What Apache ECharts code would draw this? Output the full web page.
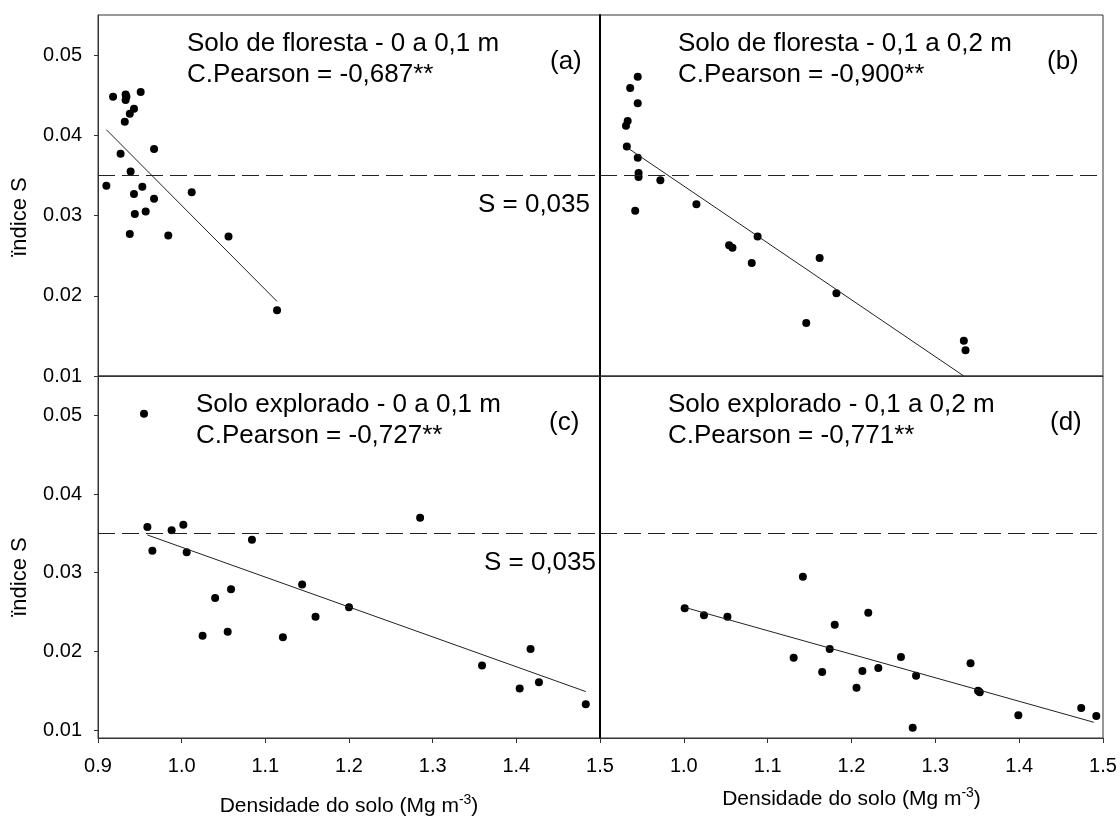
<!DOCTYPE html>
<html><head><meta charset="utf-8">
<script src="https://cdn.jsdelivr.net/npm/echarts@6/dist/echarts.min.js"></script>
<style>html,body{margin:0;padding:0;background:#fff}#c{width:1120px;height:818px}</style>
</head><body><div id="c"></div>
<script>
const FONT = '"Liberation Sans", Arial, sans-serif';

// tick labels
const xTicksLeft = [0.9, 1.0, 1.1, 1.2, 1.3, 1.4, 1.5];
const xTicksRight = [1.0, 1.1, 1.2, 1.3, 1.4, 1.5];
const yTicks = [0.01, 0.02, 0.03, 0.04, 0.05];

// texts
const panelTitles = [
  'Solo de floresta - 0 a 0,1 m\nC.Pearson = -0,687**',
  'Solo de floresta - 0,1 a 0,2 m\nC.Pearson = -0,900**',
  'Solo explorado - 0 a 0,1 m\nC.Pearson = -0,727**',
  'Solo explorado - 0,1 a 0,2 m\nC.Pearson = -0,771**'
];
const panelTags = ['(a)', '(b)', '(c)', '(d)'];
const yName = 'ïndice S';
const xName = 'Densidade do solo (Mg m{sup|-3})';
const thresholdS = 0.035;
const thresholdLabel = 'S = 0,035';

// (a) Solo de floresta 0-0,1 m
const aX = [0.910, 0.918, 0.933, 0.934, 0.933, 0.932, 0.938, 0.943, 0.951, 0.927, 0.967, 0.939, 0.953, 0.943, 0.967, 1.012, 0.944, 0.957, 0.938, 0.984, 1.056, 1.114];
const aY = [0.0337, 0.0448, 0.0451, 0.0448, 0.0444, 0.0417, 0.0427, 0.0433, 0.0454, 0.0377, 0.0383, 0.0355, 0.0336, 0.0327, 0.0321, 0.0329, 0.0302, 0.0305, 0.0277, 0.0275, 0.0274, 0.0182];
const aFitX = [0.910, 1.114];
const aFitY = [0.0407, 0.0193];

// (b) Solo de floresta 0,1-0,2 m
const bX = [0.945, 0.936, 0.945, 0.933, 0.931, 0.932, 0.945, 0.946, 0.946, 0.972, 0.942, 1.015, 1.054, 1.058, 1.088, 1.081, 1.162, 1.182, 1.146, 1.334, 1.336];
const bY = [0.0473, 0.0459, 0.0440, 0.0418, 0.0412, 0.0386, 0.0372, 0.0353, 0.0348, 0.0344, 0.0306, 0.0314, 0.0263, 0.0260, 0.0274, 0.0241, 0.0247, 0.0203, 0.0166, 0.0144, 0.0132];
const bFitX = [0.932, 1.334];
const bFitY = [0.0385, 0.0100];

// (c) Solo explorado 0-0,1 m
const cX = [0.955, 0.959, 0.965, 0.988, 1.002, 1.006, 1.025, 1.040, 1.055, 1.059, 1.084, 1.121, 1.144, 1.160, 1.200, 1.285, 1.359, 1.404, 1.417, 1.427, 1.483];
const cY = [0.0502, 0.0358, 0.0328, 0.0354, 0.0361, 0.0326, 0.0220, 0.0268, 0.0225, 0.0279, 0.0342, 0.0218, 0.0285, 0.0244, 0.0256, 0.0370, 0.0182, 0.0153, 0.0203, 0.0161, 0.0133];
const cFitX = [0.959, 1.483];
const cFitY = [0.0348, 0.0149];

// (d) Solo explorado 0,1-0,2 m
const dX = [1.001, 1.024, 1.052, 1.142, 1.131, 1.165, 1.174, 1.180, 1.206, 1.213, 1.220, 1.232, 1.259, 1.273, 1.277, 1.342, 1.351, 1.353, 1.399, 1.474, 1.492];
const dY = [0.0255, 0.0246, 0.0244, 0.0295, 0.0192, 0.0174, 0.0203, 0.0234, 0.0154, 0.0175, 0.0249, 0.0179, 0.0193, 0.0103, 0.0169, 0.0185, 0.0150, 0.0148, 0.0119, 0.0128, 0.0118];
const dFitX = [1.001, 1.489];
const dFitY = [0.0256, 0.0110];

const zip = (xs, ys) => xs.map((x, i) => [x, ys[i]]);
const panels = [
  { pts: zip(aX, aY), fit: zip(aFitX, aFitY) },
  { pts: zip(bX, bY), fit: zip(bFitX, bFitY) },
  { pts: zip(cX, cY), fit: zip(cFitX, cFitY) },
  { pts: zip(dX, dY), fit: zip(dFitX, dFitY) }
];

const gridBox = [
  { left: 98, top: 15, width: 502, height: 361 },
  { left: 600, top: 15, width: 503, height: 361 },
  { left: 98, top: 376, width: 502, height: 362 },
  { left: 600, top: 376, width: 503, height: 362 }
];
const titlePos = [
  { left: 187, top: 28.5 }, { left: 678, top: 28.5 },
  { left: 196, top: 389.5 }, { left: 668, top: 389.5 }
];
const tagPos = [
  { left: 550, top: 48.5 }, { left: 1047, top: 48.5 },
  { left: 549, top: 409.5 }, { left: 1050, top: 409.5 }
];

const grid = gridBox.map(g => Object.assign({ show: true, borderColor: '#333', borderWidth: 1, backgroundColor: 'transparent' }, g));

const yAxisFor = (i) => {
  const isLeft = i % 2 === 0;
  const isTop = i < 2;
  return {
    type: 'value', gridIndex: i,
    min: isTop ? 0.01 : 0.009, max: 0.055,
    splitLine: { show: false },
    axisLine: { show: true, lineStyle: isLeft ? { color: '#333', width: 1 } : { color: '#000', width: 2 } },
    axisTick: { show: isLeft, inside: false, length: 4, customValues: yTicks, lineStyle: { color: '#333' } },
    axisLabel: { show: isLeft, customValues: yTicks, formatter: v => v.toFixed(2), fontSize: 20, fontFamily: FONT, color: '#000', margin: 16 }
  };
};
const xAxisFor = (i) => {
  const isLeft = i % 2 === 0;
  const isTop = i < 2;
  const ticks = isLeft ? xTicksLeft : xTicksRight;
  return {
    type: 'value', gridIndex: i, min: 0.9, max: 1.5,
    splitLine: { show: false },
    axisLine: { show: true, lineStyle: { color: '#333', width: 1 } },
    axisTick: { show: !isTop, inside: false, length: 5, customValues: ticks, lineStyle: { color: '#333' } },
    axisLabel: { show: !isTop, customValues: ticks, formatter: v => v.toFixed(1), fontSize: 20, fontFamily: FONT, color: '#000', margin: 18 },
    name: isTop ? '' : xName,
    nameLocation: 'middle',
    nameGap: isLeft ? 55 : 48,
    nameTextStyle: {
      fontSize: 21, fontFamily: FONT, color: '#000',
      rich: { sup: { fontSize: 14, fontFamily: FONT, color: '#000', padding: [0, 0, 12, 0] } }
    }
  };
};

const series = [];
panels.forEach((p, i) => {
  const showS = (i === 0 || i === 2);
  series.push({
    type: 'scatter', xAxisIndex: i, yAxisIndex: i, data: p.pts,
    symbol: 'circle', symbolSize: 8, itemStyle: { color: '#000', opacity: 1 },
    markLine: {
      silent: true, symbol: ['none', 'none'], animation: false, precision: 4,
      lineStyle: { type: [17, 7], color: '#222', width: 1 },
      label: {
        show: showS, position: 'insideEndBottom', formatter: thresholdLabel,
        fontSize: 26, fontFamily: FONT, color: '#000', distance: [i === 0 ? 10 : 4, 16]
      },
      data: [{ yAxis: thresholdS }]
    }
  });
  series.push({
    type: 'line', xAxisIndex: i, yAxisIndex: i, data: p.fit,
    symbol: 'none', showSymbol: false, lineStyle: { color: '#222', width: 1 }
  });
});

const titles = [];
panelTitles.forEach((t, i) => {
  titles.push(Object.assign({ text: t, padding: 0, textStyle: { fontSize: 26, fontWeight: 'normal', fontFamily: FONT, color: '#000', lineHeight: 31 } }, titlePos[i]));
  titles.push(Object.assign({ text: panelTags[i], padding: 0, textStyle: { fontSize: 26, fontWeight: 'normal', fontFamily: FONT, color: '#000', lineHeight: 26 } }, tagPos[i]));
});

const chart = echarts.init(document.getElementById('c'), null, { renderer: 'canvas' });
chart.setOption({
  animation: false,
  backgroundColor: '#fff',
  title: titles,
  grid: grid,
  xAxis: [0, 1, 2, 3].map(xAxisFor),
  yAxis: [0, 1, 2, 3].map(yAxisFor),
  series: series,
  graphic: [
    { type: 'text', x: 20, y: 217, rotation: Math.PI / 2, style: { text: yName, fontSize: 22, fontFamily: FONT, fill: '#000', align: 'center', verticalAlign: 'middle' } },
    { type: 'text', x: 20, y: 577, rotation: Math.PI / 2, style: { text: yName, fontSize: 22, fontFamily: FONT, fill: '#000', align: 'center', verticalAlign: 'middle' } }
  ]
});
</script>
</body></html>
